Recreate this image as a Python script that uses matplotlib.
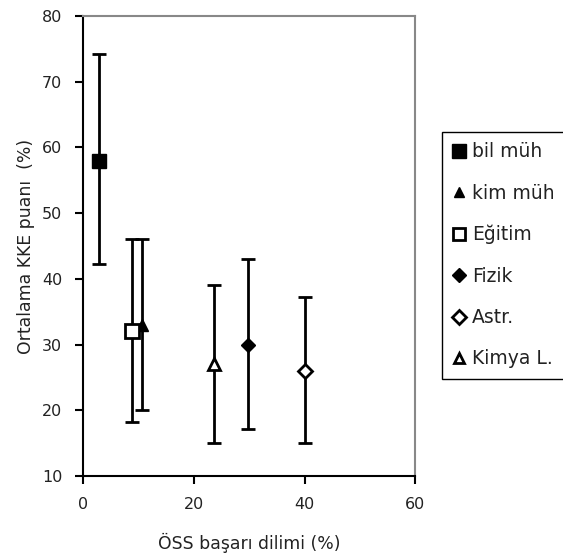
import matplotlib
matplotlib.use("Agg")
import matplotlib.pyplot as plt
from matplotlib.lines import Line2D

plt.rcParams['font.family'] = ['DejaVu Sans']

labels = ["bil müh", "kim müh", "Eğitim", "Fizik", "Astr.", "Kimya L."]
x_vals = [2.9, 10.6, 8.8, 29.8, 40.0, 23.6]
y_vals = [58.0, 33.0, 32.0, 30.0, 26.0, 27.0]
y_low = [42.2, 20.0, 18.2, 17.2, 15.0, 15.0]
y_high = [74.2, 46.0, 46.0, 43.0, 37.2, 39.0]
markers = ["s", "^", "s", "D", "D", "^"]
filled = [True, True, False, True, False, False]
msizes = [10, 8, 9.5, 7.5, 7, 8]

fig = plt.figure(figsize=(5.63, 5.58), dpi=100)
ax = fig.add_axes([83/563, 1 - 476/558, (415.5-83)/563, (476-16)/558])

handles = []
for xv, yv, lo, hi, m, f, ms, lab in zip(x_vals, y_vals, y_low, y_high, markers, filled, msizes, labels):
    ax.errorbar(xv, yv, yerr=[[yv - lo], [hi - yv]], fmt='none', ecolor='black',
                elinewidth=2, capsize=5, capthick=2, zorder=2)
    fc = 'black' if f else 'white'
    ax.plot(xv, yv, marker=m, markersize=ms, markerfacecolor=fc,
            markeredgecolor='black', markeredgewidth=2 if not f else 1,
            linestyle='none', zorder=3)
    handles.append(Line2D([], [], marker=m, markersize=ms*0.95, markerfacecolor=fc,
                          markeredgecolor='black', markeredgewidth=2 if not f else 1,
                          linestyle='none', label=lab))

ax.set_xlim(0, 60)
ax.set_ylim(10, 80)
ax.set_xticks([0, 20, 40, 60])
ax.set_yticks(range(10, 81, 10))
ax.tick_params(direction='out', length=6, width=1.5, labelsize=11.5, colors='black', pad=9)
for t in ax.get_xticklabels() + ax.get_yticklabels():
    t.set_color('#222222')

for s in ['left', 'bottom']:
    ax.spines[s].set_color('black')
    ax.spines[s].set_linewidth(1.5)
for s in ['top', 'right']:
    ax.spines[s].set_color('#888888')
    ax.spines[s].set_linewidth(1.5)

ax.set_xlabel("ÖSS başarı dilimi (%)", fontsize=12.4, labelpad=15, color='#222222')
ax.set_ylabel("Ortalama KKE puanı  (%)", fontsize=12.4, labelpad=5, color='#222222')

leg = fig.legend(handles=handles, loc='upper left',
                 bbox_to_anchor=(442/563, 1 - 132/558),
                 fontsize=13.5, frameon=True, fancybox=False, framealpha=1,
                 edgecolor='black', labelspacing=1.19, handlelength=0.7,
                 handletextpad=0.35, borderpad=0.55, borderaxespad=0)
leg.get_frame().set_linewidth(1.0)
for t in leg.get_texts():
    t.set_color('#222222')

fig.savefig("out.png", dpi=100)
